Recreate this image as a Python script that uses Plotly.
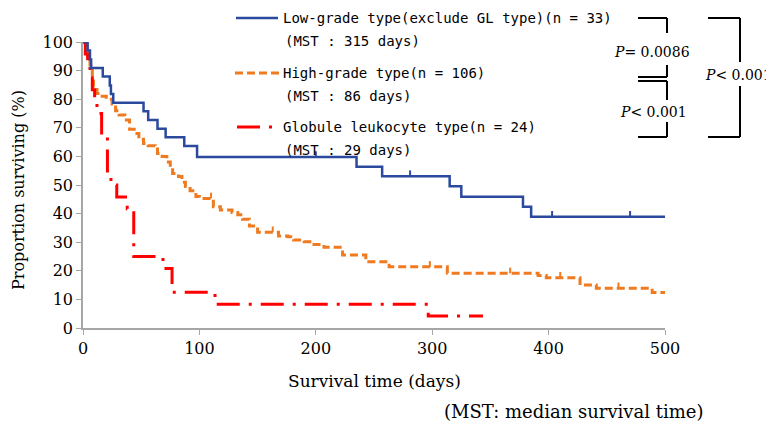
import plotly.graph_objects as go

# ---------------- data ----------------
low_t = [0, 4, 6, 7, 17, 23, 24, 26, 52, 56, 64, 71, 87, 98, 235, 257, 315, 325, 378, 385, 500]
low_s = [100, 97.0, 93.9, 90.9, 87.9, 84.8, 81.8, 78.8, 75.8, 72.7, 69.7, 66.7, 63.6, 59.8, 56.4, 53.1, 49.6, 45.9, 42.4, 38.9, 38.9]
low_cens = [200, 281, 403, 470]

high_t = [0, 2.5, 4, 6, 8, 9, 12, 15, 20, 25, 28, 31, 36, 40, 44, 48, 52, 56, 62, 64, 68, 72, 75, 77,
          82, 85, 88, 92, 97, 100, 112, 118, 128, 133, 137, 143, 150, 168, 176, 181, 190, 197, 207,
          223, 243, 263, 313, 391, 398, 427, 441, 489, 500]
high_s = [100, 98, 95, 92, 88, 84.5, 82, 81, 80, 78.3, 76, 74.5, 72.7, 69.5, 68, 66, 64.5, 63.7, 63.2, 61,
          60, 58, 56, 54, 53, 51, 49.5, 48, 46, 45.3, 42.4, 41.3, 40.4, 39.6, 38, 35.7, 33.5, 32.2, 31.9,
          30.8, 30.2, 29.2, 28.2, 25.5, 23.2, 21.4, 19.1, 18.4, 17.6, 15, 13.9, 12.4, 12.4]
high_cens = [110, 163, 298, 367, 410, 460]

gl_t = [0, 2, 4, 6, 8, 10, 12, 16, 21, 24, 29, 38, 43.6, 68.7, 76.5, 113.4, 296.6, 343.6]
gl_s = [100, 95.8, 91.7, 87.5, 83.3, 79.2, 75.0, 66.7, 54.2, 50.0, 45.8, 41.7, 25.0, 20.8, 12.5, 8.3, 4.2, 4.2]

x_ticks = [0, 100, 200, 300, 400, 500]
y_ticks = [0, 10, 20, 30, 40, 50, 60, 70, 80, 90, 100]

legend_names = ["Low-grade type(exclude GL type)(n = 33)", "High-grade type(n = 106)", "Globule leukocyte type(n = 24)"]
legend_mst = ["(MST : 315 days)", "(MST : 86 days)", "(MST : 29 days)"]
p_labels = ["<i>P</i>= 0.0086", "<i>P</i>&lt; 0.001", "<i>P</i>&lt; 0.001"]

BLUE = "#2B4A9E"
ORANGE = "#EF7A1F"
RED = "#FF0000"
GRAY = "#A6A6A6"
SERIF = "DejaVu Serif"
MONO = "DejaVu Sans Mono"

# ---------------- layout geometry (reference pixels) ----------------
WIN_W, WIN_H = 774, 422
OFF = 8  # page body margin
L, R, T, B = 83, 665, 42, 328


def px(x):
    return (x - L) / (R - L)


def py(y):
    return (B - y) / (B - T)


def surv_at(ts, ss, t):
    v = ss[0]
    for a, b in zip(ts, ss):
        if a <= t:
            v = b
    return v


def cens_segments(ts, ss, cens, h=2.0):
    xs, ys = [], []
    for c in cens:
        s = surv_at(ts, ss, c)
        xs += [c, c, None]
        ys += [s, s + h, None]
    return xs, ys


fig = go.Figure()

fig.add_trace(go.Scatter(x=high_t, y=high_s, mode="lines", line=dict(shape="hv", color=ORANGE, width=3, dash="8px,4px"),
                         cliponaxis=False, showlegend=False))
cx, cy = cens_segments(high_t, high_s, high_cens)
fig.add_trace(go.Scatter(x=cx, y=cy, mode="lines", line=dict(color=ORANGE, width=2), cliponaxis=False, showlegend=False))

fig.add_trace(go.Scatter(x=gl_t, y=gl_s, mode="lines", line=dict(shape="hv", color=RED, width=3, dash="23px,9px,3px,9px"),
                         cliponaxis=False, showlegend=False))

fig.add_trace(go.Scatter(x=low_t, y=low_s, mode="lines", line=dict(shape="hv", color=BLUE, width=2.5),
                         cliponaxis=False, showlegend=False))
cx, cy = cens_segments(low_t, low_s, low_cens)
fig.add_trace(go.Scatter(x=cx, y=cy, mode="lines", line=dict(color=BLUE, width=2), cliponaxis=False, showlegend=False))

shapes = []
annotations = []

# legend samples
leg_y = [18, 73, 127]
shapes.append(dict(type="line", xref="paper", yref="paper", x0=px(236), x1=px(278), y0=py(leg_y[0]), y1=py(leg_y[0]),
                   line=dict(color=BLUE, width=2.5)))
shapes.append(dict(type="line", xref="paper", yref="paper", x0=px(235), x1=px(279), y0=py(leg_y[1]), y1=py(leg_y[1]),
                   line=dict(color=ORANGE, width=3, dash="8px,4px")))
shapes.append(dict(type="line", xref="paper", yref="paper", x0=px(237), x1=px(274), y0=py(leg_y[2]), y1=py(leg_y[2]),
                   line=dict(color=RED, width=3, dash="23px,9px,3px,9px")))

for i in range(3):
    annotations.append(dict(xref="paper", yref="paper", x=px(281), y=py(leg_y[i]), text=legend_names[i],
                            showarrow=False, xanchor="left", yanchor="middle",
                            font=dict(family=MONO, size=14, color="black")))
    annotations.append(dict(xref="paper", yref="paper", x=px(283), y=py(leg_y[i] + 23), text=legend_mst[i],
                            showarrow=False, xanchor="left", yanchor="middle",
                            font=dict(family=MONO, size=14, color="black")))

# p-value brackets
def seg(x0, y0, x1, y1):
    shapes.append(dict(type="line", xref="paper", yref="paper", x0=px(x0), y0=py(y0), x1=px(x1), y1=py(y1),
                       line=dict(color="black", width=2)))

seg(638, 18, 667, 18); seg(667, 18, 667, 33); seg(667, 65, 667, 77); seg(638, 77, 667, 77)
seg(638, 81, 667, 81); seg(667, 81, 667, 100); seg(667, 122, 667, 137); seg(638, 137, 667, 137)
seg(708, 18, 740, 18); seg(740, 18, 740, 62); seg(740, 86, 740, 137); seg(708, 137, 740, 137)

for (x, y), t in zip([(652, 52), (653, 112), (738, 75)], p_labels):
    annotations.append(dict(xref="paper", yref="paper", x=px(x), y=py(y), text=t, showarrow=False,
                            xanchor="center", yanchor="middle", font=dict(family=SERIF, size=14, color="black")))

# axis titles and note
annotations.append(dict(xref="paper", yref="paper", x=px(374), y=py(381), text="Survival time (days)", showarrow=False,
                        xanchor="center", yanchor="middle", font=dict(family=SERIF, size=17, color="black")))
annotations.append(dict(xref="paper", yref="paper", x=px(18), y=py(190), text="Proportion surviving (%)", showarrow=False,
                        textangle=-90, xanchor="center", yanchor="middle", font=dict(family=SERIF, size=16, color="black")))
annotations.append(dict(xref="paper", yref="paper", x=px(705), y=py(411), text="(MST: median survival time)", showarrow=False,
                        xanchor="right", yanchor="middle", font=dict(family=SERIF, size=18, color="black")))

fig.update_layout(
    width=WIN_W - OFF, height=WIN_H - OFF,
    margin=dict(l=L - OFF, r=WIN_W - R, t=T - OFF, b=WIN_H - B, pad=0),
    paper_bgcolor="white", plot_bgcolor="white",
    shapes=shapes, annotations=annotations,
    showlegend=False,
    xaxis=dict(range=[0, 500], tickvals=x_ticks, ticktext=[str(v) for v in x_ticks], showgrid=False, zeroline=False,
               showline=True, linecolor=GRAY, linewidth=1.5, ticks="outside", ticklen=5, tickcolor=GRAY,
               tickfont=dict(family=SERIF, size=16, color="black")),
    yaxis=dict(range=[0, 100], tickvals=y_ticks, ticktext=[str(v) for v in y_ticks], showgrid=False, zeroline=False,
               showline=True, linecolor=GRAY, linewidth=1.5, ticks="outside", ticklen=5, tickcolor=GRAY,
               tickfont=dict(family=SERIF, size=16, color="black")),
)

fig.write_html("out.html")
